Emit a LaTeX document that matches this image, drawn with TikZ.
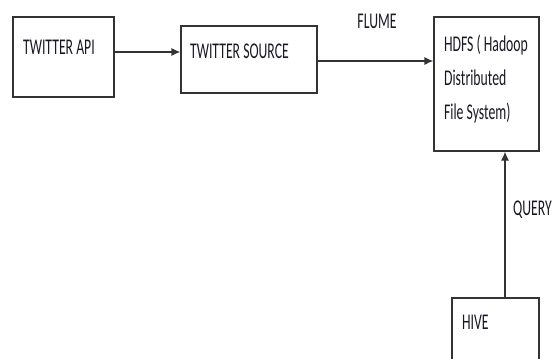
\documentclass[tikz,border=0pt]{standalone}
\usepackage{fontspec}
\setmainfont{Carlito}
\usetikzlibrary{arrows.meta,calc}
\definecolor{LineClr}{rgb}{0.2,0.2,0.2}
\definecolor{TextClr}{rgb}{0.1,0.1,0.15}

\tikzset{
  box/.style={draw=LineClr,line width=1.2pt,inner sep=0pt},
  lbl/.style={font=\fontsize{22.5}{34}\selectfont,text=TextClr,xscale=0.61,
    transform shape,inner sep=0pt,align=left},
  flow/.style={draw=LineClr,line width=1.2pt,-{Latex[length=9pt,width=8pt]}}
}

\begin{document}
\begin{tikzpicture}[x=1pt,y=1pt]
\useasboundingbox (0,0) rectangle (553,-358);
\clip (0,0) rectangle (553,-358);

% boxes
\node[box,minimum width=101pt,minimum height=80pt] (api) at (63.5,-57) {};
\node[box,minimum width=136pt,minimum height=67pt] (src) at (249,-59.5) {};
\node[box,minimum width=105pt,minimum height=134pt] (hdfs) at (486.5,-84) {};
\node[box,minimum width=87pt,minimum height=80pt] (hive) at (495.5,-338) {};

% texts
\node[lbl,anchor=base west] (apiTxt) at (23,-55) {TWITTER API};
\node[lbl,anchor=base west] (srcTxt) at (190,-58.5) {TWITTER SOURCE};
\node[lbl,anchor=base west] (hdfsTxt) at (444,-120) {HDFS ( Hadoop\\Distributed\\File System)};
\node[lbl,anchor=base west] (hiveTxt) at (462,-329.5) {HIVE};
\node[lbl,anchor=base] (flume) at (377,-28.5) {FLUME};
\node[lbl,anchor=base west] (query) at (513,-215) {QUERY};

% connectors
\draw[flow] (api.east |- 0,-52) -- (src.west |- 0,-52);
\draw[flow] (src.east |- 0,-61) -- (hdfs.west |- 0,-61);
\draw[flow] (hive.north -| 505,0) -- (hdfs.south -| 505,0);

\end{tikzpicture}
\end{document}
